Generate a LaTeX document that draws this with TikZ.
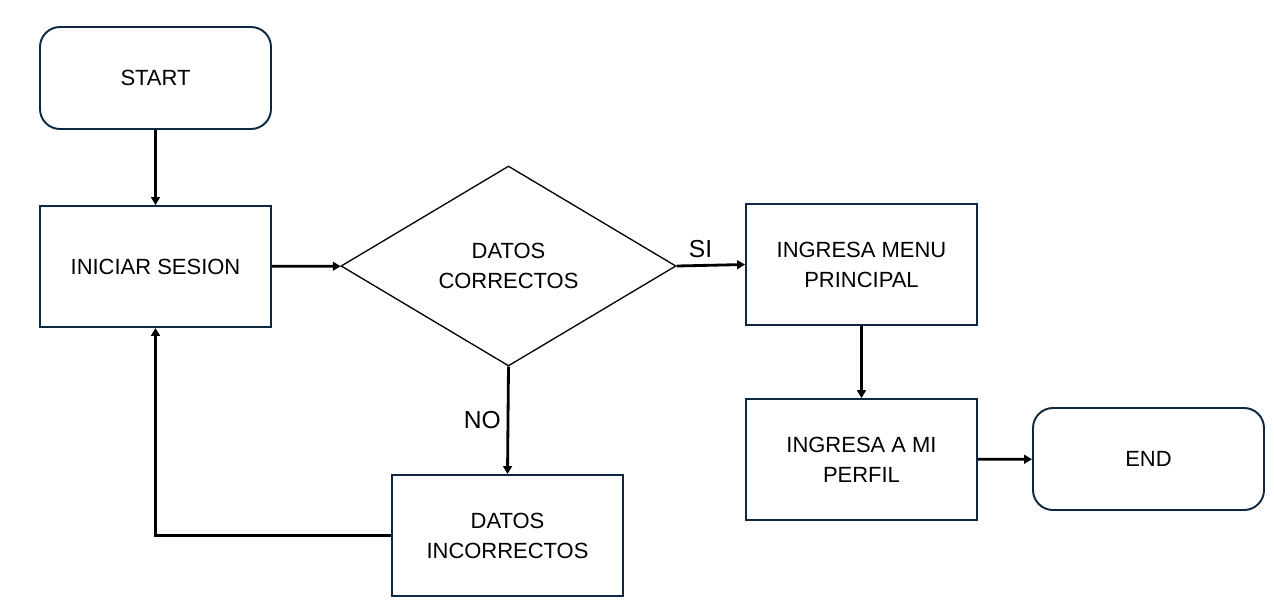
\documentclass[tikz,border=0pt]{standalone}
\usepackage{fontspec}
\setmainfont{Liberation Sans}
\usepackage{xcolor}
\usetikzlibrary{arrows.meta,positioning,shapes.geometric}
\definecolor{Navy}{HTML}{0E2841}
\definecolor{Ink}{HTML}{000000}

\begin{document}
\begin{tikzpicture}[
  box/.style={rectangle,draw=Navy,line width=1.1pt,minimum width=4.62cm,minimum height=2.42cm,
    align=center,font=\fontsize{12.5}{17}\selectfont,inner sep=2pt},
  term/.style={box,rounded corners=4mm,minimum height=2.04cm},
  decision/.style={diamond,draw=Ink,line width=0.75pt,minimum width=6.7cm,minimum height=4cm,
    align=center,font=\fontsize{12.5}{17}\selectfont,inner sep=0pt},
  flow/.style={-{Triangle[length=4.5pt,width=5pt]},line width=1.6pt,color=Ink},
  answer/.style={font=\fontsize{14}{16}\selectfont,color=Ink}
]
\useasboundingbox (0,0) rectangle (25.48,-12.14);

\node[term] (start) at (3.11,-1.56) {START};
\node[box] (login) at (3.11,-5.33) {INICIAR SESION};
\node[decision] (check) at (10.17,-5.32) {DATOS\\CORRECTOS};
\node[box] (wrong) at (10.15,-10.71) {DATOS\\INCORRECTOS};
\node[box] (menu) at (17.23,-5.29) {INGRESA MENU\\PRINCIPAL};
\node[box] (profile) at (17.23,-9.19) {INGRESA A MI\\PERFIL};
\node[term] (finish) at (22.97,-9.18) {END};

\draw[flow] (start) -- (login);
\draw[flow] (login) -- (check);
\draw[flow] (check.east) -- (menu.west) node[answer,above,pos=0.35] {SI};
\draw[flow] (check.south) -- (wrong.north) node[answer,left,midway] {NO};
\draw[flow] (wrong.west) -| (login.south);
\draw[flow] (menu) -- (profile);
\draw[flow] (profile) -- (finish);
\end{tikzpicture}
\end{document}
